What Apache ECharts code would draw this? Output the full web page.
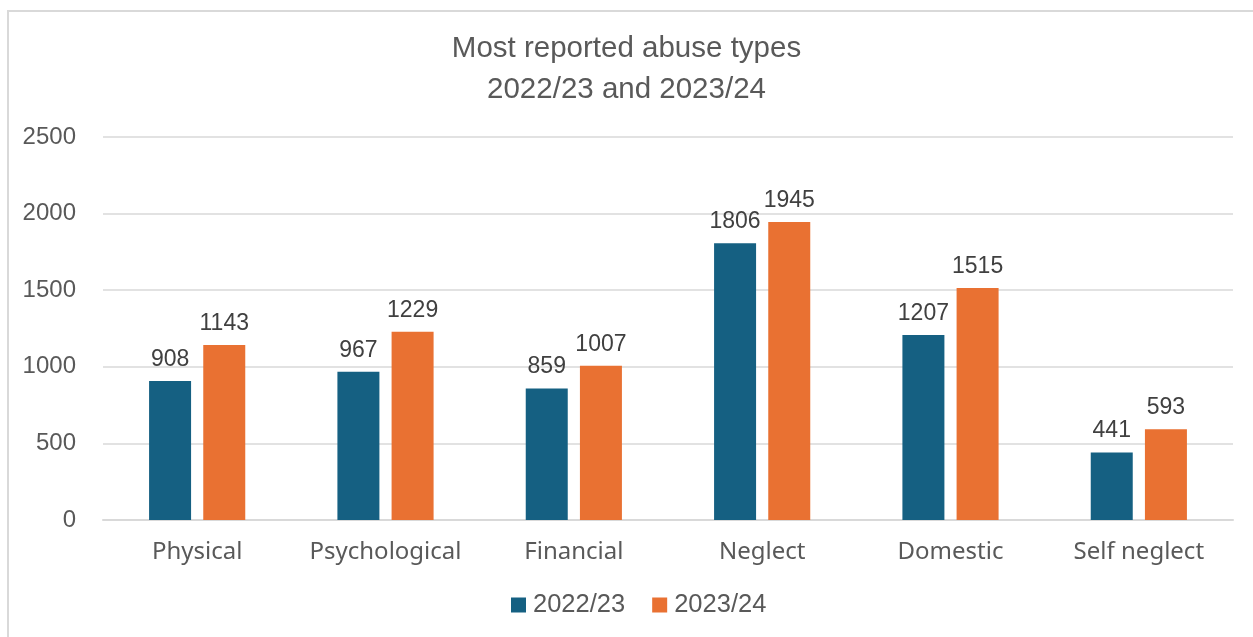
<!DOCTYPE html>
<html>
<head>
<meta charset="utf-8">
<script src="https://cdn.jsdelivr.net/npm/echarts@6/dist/echarts.min.js"></script>
<style>
  html, body { margin: 0; padding: 0; background: #fff; }
  #chart { width: 1253px; height: 637px; }
</style>
</head>
<body>
<div id="chart"></div>
<script>
var categories = ['Physical', 'Psychological', 'Financial', 'Neglect', 'Domestic', 'Self neglect'];
var seriesNames = ['2022/23', '2023/24'];
var values2223 = [908, 967, 859, 1806, 1207, 441];
var values2324 = [1143, 1229, 1007, 1945, 1515, 593];
var colors = ['#156082', '#E97132'];

var chart = echarts.init(document.getElementById('chart'));

var labelStyle = {
  show: true,
  position: 'top',
  distance: 10,
  color: '#404040',
  fontSize: 23,
  fontFamily: 'Liberation Sans'
};

chart.setOption({
  animation: false,
  color: colors,
  title: {
    text: 'Most reported abuse types\n2022/23 and 2023/24',
    left: 'center',
    top: 23,
    textStyle: {
      color: '#595959',
      fontSize: 29.5,
      fontWeight: 'normal',
      fontFamily: 'Liberation Sans',
      lineHeight: 41
    }
  },
  legend: {
    data: seriesNames,
    bottom: 14,
    left: 506,
    itemWidth: 15,
    itemHeight: 15,
    itemGap: 27,
    icon: 'rect',
    textStyle: { color: '#595959', fontSize: 25.5, fontFamily: 'Liberation Sans', padding: [0, 0, 0, 2] }
  },
  graphic: [{
    type: 'rect',
    shape: { x: 8, y: 11, width: 1260, height: 640 },
    style: { fill: 'none', stroke: '#d9d9d9', lineWidth: 2 },
    silent: true
  }],
  grid: { left: 103, right: 20, top: 137, bottom: 117, containLabel: false },
  xAxis: {
    type: 'category',
    data: categories,
    axisTick: { show: false },
    axisLine: { lineStyle: { color: '#d9d9d9', width: 2 } },
    axisLabel: { color: '#595959', fontSize: 24, fontFamily: 'Noto Sans', margin: 20, interval: 0 }
  },
  yAxis: {
    type: 'value',
    min: 0,
    max: 2500,
    interval: 500,
    axisLine: { show: false },
    axisTick: { show: false },
    splitLine: { lineStyle: { color: '#d9d9d9', width: 1.5 } },
    axisLabel: {
      color: '#595959', fontSize: 24, fontFamily: 'Liberation Sans', margin: 27,
      formatter: function (v) { return String(v); }
    }
  },
  series: [{
    name: seriesNames[0],
    type: 'bar',
    data: values2223,
    barWidth: 42,
    barGap: '29%',
    label: labelStyle
  }, {
    name: seriesNames[1],
    type: 'bar',
    data: values2324,
    barWidth: 42,
    barGap: '29%',
    label: labelStyle
  }]
});
</script>
</body>
</html>
